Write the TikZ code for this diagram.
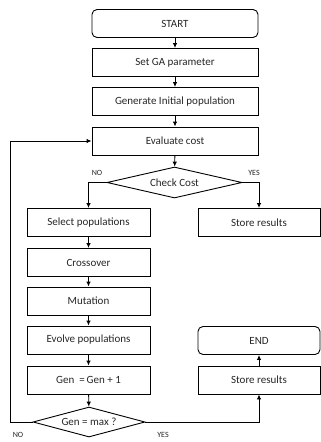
\documentclass[tikz,border=0pt]{standalone}
\usepackage{fontspec}
\setmainfont{Carlito}
\usetikzlibrary{shapes.geometric,arrows.meta}
\begin{document}
\begin{tikzpicture}[x=1pt,y=-1pt,
    box/.style={draw,line width=0.9pt,minimum height=28pt,inner sep=0pt,text=black!85,font=\fontsize{11}{13}\selectfont},
    mainbox/.style={box,minimum width=166pt},
    sidebox/.style={box,minimum width=123pt},
    decide/.style={draw,line width=0.9pt,diamond,aspect=4,inner sep=0pt,text=black!85,font=\fontsize{11}{13}\selectfont},
    lbl/.style={text=black!85,font=\fontsize{8}{9}\selectfont,inner sep=0pt},
    arr/.style={-{Latex[length=5pt,width=4.5pt]},line width=0.9pt}]
        \useasboundingbox (0,0) rectangle (321,442);
        %% main column
        \node[mainbox,rounded corners=5pt] (start) at (175,23.5) {START};
        \node[mainbox] (setga) at (175,62.5) {Set GA parameter};
        \node[mainbox] (initpop) at (175,101.5) {Generate Initial population};
        \node[mainbox] (evalcost) at (175,141) {Evaluate cost};
        \node[decide,minimum width=135pt,minimum height=31pt] (checkcost) at (174.5,182.5) {Check Cost};
        %% NO branch
        \node[sidebox] (select) at (88.5,222.5) {Select populations};
        \node[sidebox] (crossover) at (88.5,262.5) {Crossover};
        \node[sidebox] (mutation) at (88.5,301) {Mutation};
        \node[sidebox] (evolve) at (88.5,340) {Evolve populations};
        \node[sidebox] (genplus) at (88.5,380) {Gen \ =\,Gen + 1};
        \node[decide,minimum width=112pt,minimum height=30pt] (genmax) at (89,422) {Gen = max ?};
        %% YES branch
        \node[sidebox,minimum width=122pt] (storeA) at (259,222.5) {Store results};
        \node[sidebox,minimum width=122pt] (storeB) at (259,380) {Store results};
        \node[sidebox,minimum width=122pt,rounded corners=5pt] (finish) at (259,340.5) {END};
        %% labels
        \node[lbl] (noA) at (97,173) {NO};
        \node[lbl] (yesA) at (254,173) {YES};
        \node[lbl] (noB) at (18,435) {NO};
        \node[lbl] (yesB) at (163,435) {YES};
        \coordinate (loop) at (10,422);
        %% connectors
        \draw[arr] (start) -- (setga);
        \draw[arr] (setga) -- (initpop);
        \draw[arr] (initpop) -- (evalcost);
        \draw[arr] (evalcost) -- (checkcost);
        \draw[arr] (checkcost.west) -| (select);
        \draw[arr] (checkcost.east) -| (storeA);
        \draw[arr] (select) -- (crossover);
        \draw[arr] (crossover) -- (mutation);
        \draw[arr] (mutation) -- (evolve);
        \draw[arr] (evolve) -- (genplus);
        \draw[arr] (genplus) -- (genmax);
        \draw[arr] (genmax.west) -- (loop) |- (evalcost.west);
        \draw[arr] (genmax.east) -| (storeB);
        \draw[arr] (storeB) -- (finish);
    \end{tikzpicture}
\end{document}
